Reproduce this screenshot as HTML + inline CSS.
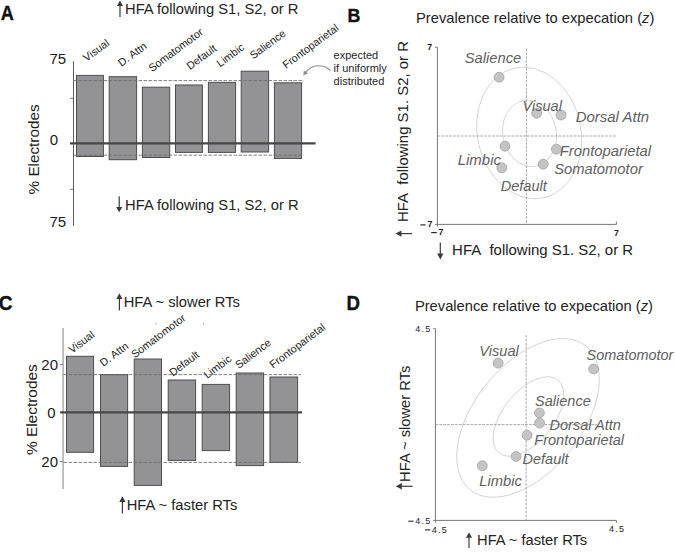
<!DOCTYPE html>
<html><head><meta charset="utf-8"><style>
html,body{margin:0;padding:0;background:#fff;width:675px;height:558px;overflow:hidden}
svg{display:block}
text{font-family:"Liberation Sans", sans-serif}
</style></head><body>
<svg width="675" height="558" viewBox="0 0 675 558">
<rect width="675" height="558" fill="#fff"/>
<text x="0" y="0" font-size="18.10" fill="#111" font-weight="bold" stroke="#111" stroke-width="0.35" transform="translate(0.80 19.50) scale(1 1.08)">A</text>
<line x1="120" y1="5.6" x2="120" y2="17.1" stroke="#3a3a3a" stroke-width="1.2"/>
<path d="M120 0.4 L123.1 5.8999999999999995 L116.9 5.8999999999999995 Z" fill="#3a3a3a"/>
<text x="125.00" y="13.80" font-size="14.72" fill="#222" font-weight="normal" font-style="normal" text-anchor="start" >HFA following S1, S2, or R</text>
<line x1="73.5" y1="61.1" x2="73.5" y2="225.8" stroke="#5e5e5e" stroke-width="1" />
<line x1="70" y1="98.3" x2="73.5" y2="98.3" stroke="#666" stroke-width="0.9" />
<line x1="70" y1="189.3" x2="73.5" y2="189.3" stroke="#666" stroke-width="0.9" />
<text x="49.40" y="63.50" font-size="15.00" fill="#1a1a1a" font-weight="normal" font-style="normal" text-anchor="start" >75</text>
<text x="49.80" y="145.30" font-size="15.00" fill="#1a1a1a" font-weight="normal" font-style="normal" text-anchor="start" >0</text>
<text x="49.40" y="226.50" font-size="15.00" fill="#1a1a1a" font-weight="normal" font-style="normal" text-anchor="start" >75</text>
<text x="39.50" y="194.40" font-size="15.28" fill="#1a1a1a" font-weight="normal" font-style="normal" text-anchor="start" transform="rotate(-90 39.50 194.40)" >% Electrodes</text>
<rect x="76.5" y="75.4" width="26.90" height="81.10" fill="#939396" stroke="#4d4d4d" stroke-width="1"/>
<rect x="109.2" y="76.7" width="27.40" height="83.00" fill="#939396" stroke="#4d4d4d" stroke-width="1"/>
<rect x="142.4" y="87.2" width="27.30" height="70.30" fill="#939396" stroke="#4d4d4d" stroke-width="1"/>
<rect x="175.5" y="85.0" width="26.90" height="67.40" fill="#939396" stroke="#4d4d4d" stroke-width="1"/>
<rect x="208.4" y="82.4" width="27.20" height="70.00" fill="#939396" stroke="#4d4d4d" stroke-width="1"/>
<rect x="241.2" y="71.2" width="27.40" height="80.80" fill="#939396" stroke="#4d4d4d" stroke-width="1"/>
<rect x="274.4" y="82.8" width="27.20" height="75.60" fill="#939396" stroke="#4d4d4d" stroke-width="1"/>
<line x1="73.5" y1="80.6" x2="303.8" y2="80.6" stroke="#6c6c6c" stroke-width="0.85" stroke-dasharray="3.6 1.4" />
<line x1="73.5" y1="155.2" x2="303.8" y2="155.2" stroke="#6c6c6c" stroke-width="0.85" stroke-dasharray="3.6 1.4" />
<line x1="70" y1="143.3" x2="315.6" y2="143.3" stroke="#474747" stroke-width="2.3" />
<text x="86.60" y="61.90" font-size="10.80" fill="#222" font-weight="normal" font-style="normal" text-anchor="start" transform="rotate(-36.5 86.60 61.90)" >Visual</text>
<text x="121.60" y="66.90" font-size="10.80" fill="#222" font-weight="normal" font-style="normal" text-anchor="start" transform="rotate(-36.5 121.60 66.90)" >D. Attn</text>
<text x="151.90" y="72.20" font-size="10.80" fill="#222" font-weight="normal" font-style="normal" text-anchor="start" transform="rotate(-36.5 151.90 72.20)" >Somatomotor</text>
<text x="189.90" y="70.20" font-size="10.80" fill="#222" font-weight="normal" font-style="normal" text-anchor="start" transform="rotate(-36.5 189.90 70.20)" >Default</text>
<text x="220.10" y="67.40" font-size="10.80" fill="#222" font-weight="normal" font-style="normal" text-anchor="start" transform="rotate(-36.5 220.10 67.40)" >Limbic</text>
<text x="253.30" y="59.60" font-size="10.80" fill="#222" font-weight="normal" font-style="normal" text-anchor="start" transform="rotate(-36.5 253.30 59.60)" >Salience</text>
<text x="285.90" y="69.00" font-size="10.80" fill="#222" font-weight="normal" font-style="normal" text-anchor="start" transform="rotate(-36.5 285.90 69.00)" >Frontoparietal</text>
<line x1="119.2" y1="196.2" x2="119.2" y2="207.3" stroke="#3a3a3a" stroke-width="1.2"/>
<path d="M119.2 212.2 L122.3 207.0 L116.10000000000001 207.0 Z" fill="#3a3a3a"/>
<text x="125.10" y="209.70" font-size="14.72" fill="#222" font-weight="normal" font-style="normal" text-anchor="start" >HFA following S1, S2, or R</text>
<text x="333.60" y="58.80" font-size="11.00" fill="#1e1e1e" font-weight="normal" font-style="normal" text-anchor="start" >expected</text>
<text x="333.60" y="71.70" font-size="11.00" fill="#1e1e1e" font-weight="normal" font-style="normal" text-anchor="start" >if uniformly</text>
<text x="333.60" y="84.60" font-size="11.00" fill="#1e1e1e" font-weight="normal" font-style="normal" text-anchor="start" >distributed</text>
<path d="M330.6 70.6 C 324 64.2, 312 63.2, 305.2 73" fill="none" stroke="#8f8f8f" stroke-width="1.15"/>
<path d="M303.3 75.4 L303.9 70.6 L308.1 73.2 Z" fill="#8f8f8f"/>
<text x="0" y="0" font-size="17.85" fill="#111" font-weight="bold" stroke="#111" stroke-width="0.35" transform="translate(347.60 22.40) scale(1 1.08)">B</text>
<text x="416.00" y="22.70" font-size="14.74" fill="#222" font-weight="normal" font-style="normal" text-anchor="start" >Prevalence relative to expecation (<tspan font-style="italic">z</tspan>)</text>
<ellipse cx="0" cy="0" rx="51.8" ry="66.4" transform="translate(529.2 133.0) rotate(-12.7)" fill="none" stroke="#d3d3d3" stroke-width="0.9"/>
<ellipse cx="0" cy="0" rx="26.8" ry="33.3" transform="translate(529.5 133.4) rotate(-10.4)" fill="none" stroke="#d3d3d3" stroke-width="0.9"/>
<line x1="437.4" y1="136" x2="616" y2="136" stroke="#ababab" stroke-width="1" stroke-dasharray="2.8 1.1" />
<line x1="526.4" y1="48.4" x2="526.4" y2="224" stroke="#ababab" stroke-width="1" stroke-dasharray="2.8 1.1" />
<line x1="437.4" y1="47.2" x2="437.4" y2="226.6" stroke="#787878" stroke-width="1" />
<line x1="435.1" y1="224.4" x2="616.4" y2="224.4" stroke="#787878" stroke-width="1" />
<line x1="435.2" y1="47.2" x2="437.4" y2="47.2" stroke="#787878" stroke-width="1" />
<line x1="616.4" y1="221.5" x2="616.4" y2="224.4" stroke="#787878" stroke-width="1" />
<text x="427.30" y="50.40" font-size="8.80" fill="#1a1a1a" font-weight="bold" font-style="normal" text-anchor="start" >7</text>
<line x1="420.4" y1="224.9" x2="425.6" y2="224.9" stroke="#1a1a1a" stroke-width="1.1" />
<text x="427.60" y="227.40" font-size="8.80" fill="#1a1a1a" font-weight="bold" font-style="normal" text-anchor="start" >7</text>
<line x1="431.2" y1="232.6" x2="436.8" y2="232.6" stroke="#1a1a1a" stroke-width="1.1" />
<text x="438.40" y="235.30" font-size="8.80" fill="#1a1a1a" font-weight="bold" font-style="normal" text-anchor="start" >7</text>
<text x="613.90" y="235.50" font-size="8.80" fill="#1a1a1a" font-weight="bold" font-style="normal" text-anchor="start" >7</text>
<circle cx="499.1" cy="77.2" r="4.95" fill="#c4c4c4" stroke="#a2a2a2" stroke-width="0.8"/>
<circle cx="536.6" cy="113.2" r="4.95" fill="#c4c4c4" stroke="#a2a2a2" stroke-width="0.8"/>
<circle cx="561" cy="115" r="4.95" fill="#c4c4c4" stroke="#a2a2a2" stroke-width="0.8"/>
<circle cx="505" cy="146.2" r="4.95" fill="#c4c4c4" stroke="#a2a2a2" stroke-width="0.8"/>
<circle cx="556.4" cy="149.2" r="4.95" fill="#c4c4c4" stroke="#a2a2a2" stroke-width="0.8"/>
<circle cx="501.8" cy="167.8" r="4.95" fill="#c4c4c4" stroke="#a2a2a2" stroke-width="0.8"/>
<circle cx="543.2" cy="164.2" r="4.95" fill="#c4c4c4" stroke="#a2a2a2" stroke-width="0.8"/>
<text x="464.80" y="62.70" font-size="14.74" fill="#5f5f5f" font-weight="normal" font-style="italic" text-anchor="start" >Salience</text>
<text x="522.50" y="111.30" font-size="14.56" fill="#5f5f5f" font-weight="normal" font-style="italic" text-anchor="start" >Visual</text>
<text x="575.70" y="121.90" font-size="14.98" fill="#5f5f5f" font-weight="normal" font-style="italic" text-anchor="start" >Dorsal Attn</text>
<text x="559.70" y="156.30" font-size="14.82" fill="#5f5f5f" font-weight="normal" font-style="italic" text-anchor="start" >Frontoparietal</text>
<text x="554.20" y="174.30" font-size="14.77" fill="#5f5f5f" font-weight="normal" font-style="italic" text-anchor="start" >Somatomotor</text>
<text x="457.70" y="165.30" font-size="14.97" fill="#5f5f5f" font-weight="normal" font-style="italic" text-anchor="start" >Limbic</text>
<text x="500.70" y="191.20" font-size="14.58" fill="#5f5f5f" font-weight="normal" font-style="italic" text-anchor="start" >Default</text>
<text x="407.60" y="222.00" font-size="14.95" fill="#222" font-weight="normal" font-style="normal" text-anchor="start" transform="rotate(-90 407.60 222.00)" >HFA&#160; following S1. S2, or R</text>
<line x1="401.2" y1="233.6" x2="412" y2="233.6" stroke="#3a3a3a" stroke-width="1.2"/>
<path d="M395.4 233.6 L401.5 230.4 L401.5 236.79999999999998 Z" fill="#3a3a3a"/>
<line x1="440.3" y1="242.4" x2="440.3" y2="253.9" stroke="#3a3a3a" stroke-width="1.2"/>
<path d="M440.3 259.5 L443.40000000000003 253.6 L437.2 253.6 Z" fill="#3a3a3a"/>
<text x="452.10" y="254.80" font-size="14.95" fill="#222" font-weight="normal" font-style="normal" text-anchor="start" >HFA&#160; following S1. S2, or R</text>
<text x="0" y="0" font-size="19.00" fill="#111" font-weight="bold" stroke="#111" stroke-width="0.35" transform="translate(-1.20 309.50) scale(1 1.08)">C</text>
<line x1="119.4" y1="298.7" x2="119.4" y2="310.6" stroke="#3a3a3a" stroke-width="1.2"/>
<path d="M119.4 293.3 L122.5 299.0 L116.30000000000001 299.0 Z" fill="#3a3a3a"/>
<text x="123.70" y="306.90" font-size="14.71" fill="#222" font-weight="normal" font-style="normal" text-anchor="start" >HFA ~ slower RTs</text>
<line x1="63.1" y1="328" x2="63.1" y2="489" stroke="#a8a8a8" stroke-width="1.4" />
<line x1="60" y1="364.3" x2="63.1" y2="364.3" stroke="#777" stroke-width="0.9" />
<line x1="60" y1="412.3" x2="63.1" y2="412.3" stroke="#777" stroke-width="0.9" />
<line x1="60" y1="461.6" x2="63.1" y2="461.6" stroke="#777" stroke-width="0.9" />
<text x="41.30" y="369.60" font-size="15.00" fill="#1a1a1a" font-weight="normal" font-style="normal" text-anchor="start" >20</text>
<text x="47.30" y="417.70" font-size="15.00" fill="#1a1a1a" font-weight="normal" font-style="normal" text-anchor="start" >0</text>
<text x="41.30" y="466.60" font-size="15.00" fill="#1a1a1a" font-weight="normal" font-style="normal" text-anchor="start" >20</text>
<text x="37.40" y="455.10" font-size="15.43" fill="#1a1a1a" font-weight="normal" font-style="normal" text-anchor="start" transform="rotate(-90 37.40 455.10)" >% Electrodes</text>
<rect x="66.5" y="356.3" width="27.10" height="96.00" fill="#939396" stroke="#4d4d4d" stroke-width="1"/>
<rect x="100.5" y="374.6" width="27.10" height="91.80" fill="#939396" stroke="#4d4d4d" stroke-width="1"/>
<rect x="134.2" y="359" width="27.30" height="126.40" fill="#939396" stroke="#4d4d4d" stroke-width="1"/>
<rect x="168.2" y="380" width="27.40" height="80.40" fill="#939396" stroke="#4d4d4d" stroke-width="1"/>
<rect x="202.2" y="384.4" width="27.40" height="66.20" fill="#939396" stroke="#4d4d4d" stroke-width="1"/>
<rect x="236.2" y="373" width="27.40" height="92.60" fill="#939396" stroke="#4d4d4d" stroke-width="1"/>
<rect x="270" y="377" width="27.60" height="85.40" fill="#939396" stroke="#4d4d4d" stroke-width="1"/>
<line x1="63.5" y1="374.6" x2="301" y2="374.6" stroke="#6c6c6c" stroke-width="0.85" stroke-dasharray="3.6 1.4" />
<line x1="63.5" y1="462.4" x2="301" y2="462.4" stroke="#6c6c6c" stroke-width="0.85" stroke-dasharray="3.6 1.4" />
<line x1="60.2" y1="412.3" x2="302" y2="412.3" stroke="#474747" stroke-width="2.3" />
<text x="72.00" y="353.80" font-size="10.80" fill="#222" font-weight="normal" font-style="normal" text-anchor="start" transform="rotate(-37 72.00 353.80)" >Visual</text>
<text x="103.30" y="367.10" font-size="10.80" fill="#222" font-weight="normal" font-style="normal" text-anchor="start" transform="rotate(-37 103.30 367.10)" >D. Attn</text>
<text x="134.70" y="358.50" font-size="10.80" fill="#222" font-weight="normal" font-style="normal" text-anchor="start" transform="rotate(-37 134.70 358.50)" >Somatomotor</text>
<text x="172.70" y="376.70" font-size="10.80" fill="#222" font-weight="normal" font-style="normal" text-anchor="start" transform="rotate(-37 172.70 376.70)" >Default</text>
<text x="207.30" y="379.10" font-size="10.80" fill="#222" font-weight="normal" font-style="normal" text-anchor="start" transform="rotate(-37 207.30 379.10)" >Limbic</text>
<text x="238.70" y="369.10" font-size="10.80" fill="#222" font-weight="normal" font-style="normal" text-anchor="start" transform="rotate(-37 238.70 369.10)" >Salience</text>
<text x="273.00" y="368.80" font-size="10.80" fill="#222" font-weight="normal" font-style="normal" text-anchor="start" transform="rotate(-37 273.00 368.80)" >Frontoparietal</text>
<circle cx="156" cy="323.7" r="0.6" fill="#888"/>
<circle cx="203.4" cy="323.7" r="0.6" fill="#888"/>
<line x1="122.4" y1="501.6" x2="122.4" y2="513.5" stroke="#3a3a3a" stroke-width="1.2"/>
<path d="M122.4 496.3 L125.5 501.90000000000003 L119.30000000000001 501.90000000000003 Z" fill="#3a3a3a"/>
<text x="126.70" y="509.80" font-size="14.73" fill="#222" font-weight="normal" font-style="normal" text-anchor="start" >HFA ~ faster RTs</text>
<text x="0" y="0" font-size="18.67" fill="#111" font-weight="bold" stroke="#111" stroke-width="0.35" transform="translate(346.40 309.60) scale(1 1.08)">D</text>
<text x="414.90" y="310.70" font-size="14.72" fill="#222" font-weight="normal" font-style="normal" text-anchor="start" >Prevalence relative to expecation (<tspan font-style="italic">z</tspan>)</text>
<ellipse cx="0" cy="0" rx="92.3" ry="53.5" transform="translate(528 417.9) rotate(-51.2)" fill="none" stroke="#d3d3d3" stroke-width="0.9"/>
<ellipse cx="0" cy="0" rx="46.9" ry="25.2" transform="translate(528.5 416.5) rotate(-51)" fill="none" stroke="#d3d3d3" stroke-width="0.9"/>
<line x1="435.4" y1="424.6" x2="597" y2="424.6" stroke="#ababab" stroke-width="1" stroke-dasharray="2.8 1.1" />
<line x1="526.1" y1="335" x2="526.1" y2="520.4" stroke="#ababab" stroke-width="1" stroke-dasharray="2.8 1.1" />
<line x1="435.4" y1="328.6" x2="435.4" y2="522.7" stroke="#787878" stroke-width="1" />
<line x1="433" y1="520.4" x2="616.4" y2="520.4" stroke="#787878" stroke-width="1" />
<line x1="433.4" y1="328.6" x2="435.4" y2="328.6" stroke="#787878" stroke-width="1" />
<line x1="616.4" y1="520.4" x2="616.4" y2="523" stroke="#787878" stroke-width="1" />
<text x="415.20" y="332.40" font-size="9.00" fill="#1a1a1a" font-weight="normal" font-style="normal" text-anchor="start" letter-spacing="1.25">4.5</text>
<text x="415.30" y="524.10" font-size="9.00" fill="#1a1a1a" font-weight="normal" font-style="normal" text-anchor="start" letter-spacing="1.25">4.5</text>
<line x1="408.3" y1="521.2" x2="413.6" y2="521.2" stroke="#1a1a1a" stroke-width="1.05" />
<text x="431.80" y="532.80" font-size="9.00" fill="#1a1a1a" font-weight="normal" font-style="normal" text-anchor="start" letter-spacing="1.25">4.5</text>
<line x1="425.0" y1="529.9" x2="430.4" y2="529.9" stroke="#1a1a1a" stroke-width="1.05" />
<text x="609.10" y="532.40" font-size="9.00" fill="#1a1a1a" font-weight="normal" font-style="normal" text-anchor="start" letter-spacing="1.25">4.5</text>
<circle cx="498.1" cy="363.1" r="4.95" fill="#c4c4c4" stroke="#a2a2a2" stroke-width="0.8"/>
<circle cx="593.7" cy="369" r="4.95" fill="#c4c4c4" stroke="#a2a2a2" stroke-width="0.8"/>
<circle cx="539.4" cy="413" r="4.95" fill="#c4c4c4" stroke="#a2a2a2" stroke-width="0.8"/>
<circle cx="539.6" cy="423.1" r="4.95" fill="#c4c4c4" stroke="#a2a2a2" stroke-width="0.8"/>
<circle cx="527.1" cy="435.2" r="4.95" fill="#c4c4c4" stroke="#a2a2a2" stroke-width="0.8"/>
<circle cx="516.1" cy="456.5" r="4.95" fill="#c4c4c4" stroke="#a2a2a2" stroke-width="0.8"/>
<circle cx="482.3" cy="465.8" r="4.95" fill="#c4c4c4" stroke="#a2a2a2" stroke-width="0.8"/>
<text x="479.30" y="356.20" font-size="14.60" fill="#5f5f5f" font-weight="normal" font-style="italic" text-anchor="start" >Visual</text>
<text x="586.60" y="360.10" font-size="14.48" fill="#5f5f5f" font-weight="normal" font-style="italic" text-anchor="start" >Somatomotor</text>
<text x="535.10" y="406.20" font-size="14.52" fill="#5f5f5f" font-weight="normal" font-style="italic" text-anchor="start" >Salience</text>
<text x="549.50" y="429.70" font-size="14.56" fill="#5f5f5f" font-weight="normal" font-style="italic" text-anchor="start" >Dorsal Attn</text>
<text x="534.30" y="445.00" font-size="14.55" fill="#5f5f5f" font-weight="normal" font-style="italic" text-anchor="start" >Frontoparietal</text>
<text x="522.60" y="463.90" font-size="14.47" fill="#5f5f5f" font-weight="normal" font-style="italic" text-anchor="start" >Default</text>
<text x="479.20" y="486.00" font-size="14.81" fill="#5f5f5f" font-weight="normal" font-style="italic" text-anchor="start" >Limbic</text>
<text x="410.20" y="481.90" font-size="14.71" fill="#222" font-weight="normal" font-style="normal" text-anchor="start" transform="rotate(-90 410.20 481.90)" >HFA ~ slower RTs</text>
<line x1="401.5" y1="486.3" x2="412.6" y2="486.3" stroke="#3a3a3a" stroke-width="1.2"/>
<path d="M395.8 486.3 L401.8 483.1 L401.8 489.5 Z" fill="#3a3a3a"/>
<line x1="469" y1="537.5" x2="469" y2="547.9" stroke="#3a3a3a" stroke-width="1.2"/>
<path d="M469 532.6 L472.1 537.8 L465.9 537.8 Z" fill="#3a3a3a"/>
<text x="477.10" y="545.00" font-size="14.67" fill="#222" font-weight="normal" font-style="normal" text-anchor="start" >HFA ~ faster RTs</text>
</svg>
</body></html>
